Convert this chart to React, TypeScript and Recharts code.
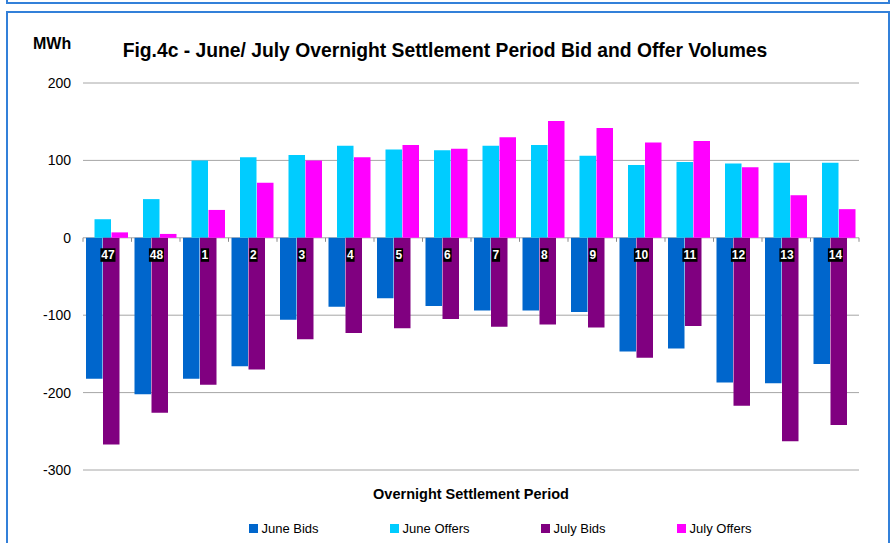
import React from "react";
import { BarChart, Bar, XAxis, YAxis, CartesianGrid, Legend } from "recharts";

const periods = ["47", "48", "1", "2", "3", "4", "5", "6", "7", "8", "9", "10", "11", "12", "13", "14"];
const juneBids = [-182, -202, -182, -166, -106, -89, -78, -88, -94, -94, -96, -147, -143, -187, -188, -163];
const juneOffers = [24, 50, 100, 104, 107, 119, 114, 113, 119, 120, 106, 94, 98, 96, 97, 97];
const julyBids = [-267, -226, -190, -170, -131, -123, -117, -105, -115, -112, -116, -155, -114, -217, -263, -242];
const julyOffers = [7, 5, 36, 71, 100, 104, 120, 115, 130, 151, 142, 123, 125, 91, 55, 37];
const yTicks = [200, 100, 0, -100, -200, -300];

const series = [
  { key: "juneBids", name: "June Bids", color: "#0066cc" },
  { key: "juneOffers", name: "June Offers", color: "#00ccff" },
  { key: "julyBids", name: "July Bids", color: "#800080" },
  { key: "julyOffers", name: "July Offers", color: "#ff00ff" },
];

const data = periods.map((p, i) => ({
  period: p,
  juneBids: juneBids[i],
  juneOffers: juneOffers[i],
  julyBids: julyBids[i],
  julyOffers: julyOffers[i],
}));

const FONT = '"Liberation Sans", Arial, sans-serif';
const W = 893;
const H = 543;
const X_H = 1;
const M = { top: 83, right: 34, bottom: 73 - X_H, left: 0 };
const Y_W = 83;
const PLOT_W = W - M.left - M.right - Y_W;
const PLOT_H = H - M.top - M.bottom - X_H;
const BAND = PLOT_W / periods.length;
// y position of the zero line, where the category labels sit
const Y0 = M.top + (PLOT_H * 200) / 500;

const PeriodTick = (props: any) => {
  const { x, payload, index } = props;
  const label = String(payload.value);
  const w = label.length * 6.8 + 1.5;
  return (
    <g>
      <line x1={x - BAND / 2} x2={x - BAND / 2} y1={Y0} y2={Y0 + 4} stroke="#8c8c8c" />
      {index === periods.length - 1 && (
        <line x1={x + BAND / 2} x2={x + BAND / 2} y1={Y0} y2={Y0 + 4} stroke="#8c8c8c" />
      )}
      <rect x={x + 0.7 - w / 2} y={Y0 + 10.5} width={w} height={13.5} fill="#000" />
      <text
        x={x + 0.7}
        y={Y0 + 21.4}
        textAnchor="middle"
        fill="#fff"
        fontSize={12}
        fontWeight="bold"
        fontFamily={FONT}
      >
        {label}
      </text>
    </g>
  );
};

const LegendContent = () => (
  <div style={{ display: "flex", justifyContent: "center", gap: 71, fontFamily: FONT, fontSize: 13, color: "#000" }}>
    {series.map((s) => (
      <div key={s.key} style={{ display: "flex", alignItems: "center" }}>
        <span style={{ width: 9, height: 9, background: s.color, display: "inline-block", marginRight: 4 }} />
        <span>{s.name}</span>
      </div>
    ))}
  </div>
);

export default function App() {
  return (
    <div
      style={{
        position: "absolute",
        left: 0,
        top: 0,
        width: W,
        height: H,
        overflow: "hidden",
        background: "#fff",
        fontFamily: FONT,
      }}
    >
      <div
        style={{
          position: "absolute",
          left: 6,
          top: -20,
          width: 880,
          height: 20,
          border: "2px solid #3380d9",
        }}
      />
      <div
        style={{
          position: "absolute",
          left: 6,
          top: 11,
          width: 880,
          height: 600,
          border: "2px solid #3380d9",
        }}
      />
      <div style={{ position: "absolute", left: 0, top: 0 }}>
        <BarChart
          width={W}
          height={H}
          data={data}
          margin={M}
          barSize={16.5}
          barGap={-8}
        >
          <CartesianGrid vertical={false} stroke="#a6a6a6" />
          <XAxis
            dataKey="period"
            height={X_H}
            axisLine={false}
            tickLine={false}
            interval={0}
            tick={<PeriodTick />}
          />
          <YAxis
            domain={[-300, 200]}
            ticks={yTicks}
            interval={0}
            width={Y_W}
            axisLine={false}
            tickLine={false}
            tickSize={6}
            tickMargin={6}
            tick={{ fontSize: 14, fill: "#000", fontFamily: FONT }}
          />
          <Legend
            layout="horizontal"
            verticalAlign="middle"
            align="center"
            content={<LegendContent />}
            wrapperStyle={{ left: 107, top: 521, width: 786 }}
          />
          {series.map((s) => (
            <Bar
              key={s.key}
              dataKey={s.key}
              name={s.name}
              fill={s.color}
              isAnimationActive={false}
            />
          ))}
        </BarChart>
      </div>
      <svg
        width={W}
        height={H}
        style={{ position: "absolute", left: 0, top: 0, pointerEvents: "none" }}
      >
        <text x={33} y={49} fontSize={16} fontWeight="bold" fontFamily={FONT} fill="#000">
          MWh
        </text>
        <text x={445} y={57} fontSize={19.3} fontWeight="bold" fontFamily={FONT} fill="#000" textAnchor="middle">
          Fig.4c - June/ July Overnight Settlement Period Bid and Offer Volumes
        </text>
        <text x={471} y={499} fontSize={14.5} fontWeight="bold" fontFamily={FONT} fill="#000" textAnchor="middle">
          Overnight Settlement Period
        </text>
      </svg>
    </div>
  );
}
